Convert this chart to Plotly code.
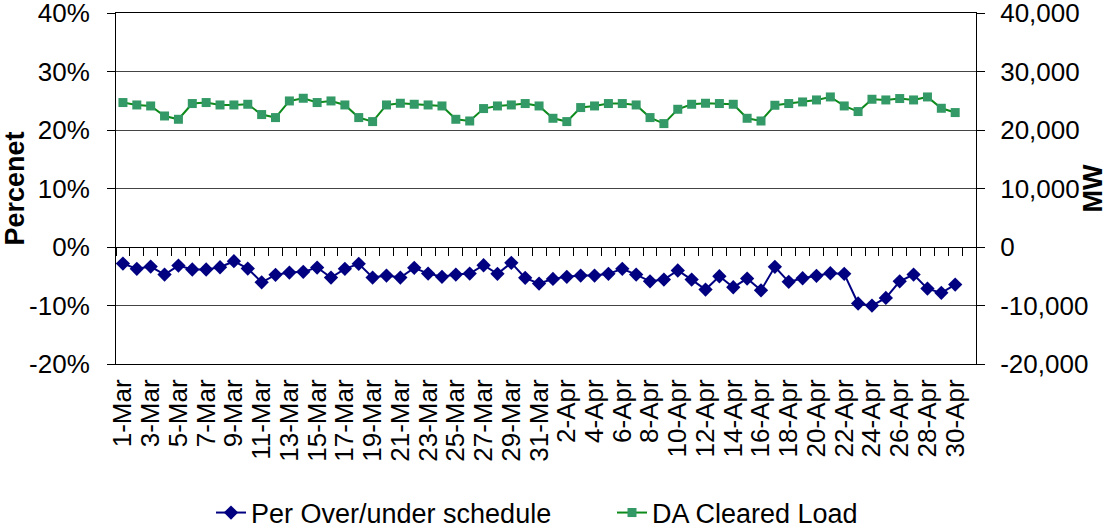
import plotly.graph_objects as go

dates = [f"{d}-Mar" for d in range(1, 32)] + [f"{d}-Apr" for d in range(1, 31)]

per_over_under = [
    -2.83, -3.73, -3.34, -4.71, -3.17, -3.85, -3.85, -3.46, -2.43, -3.68,
    -6.03, -4.76, -4.37, -4.25, -3.51, -5.22, -3.73, -2.88, -5.22, -4.88,
    -5.22, -3.56, -4.54, -5.10, -4.71, -4.54, -3.12, -4.59, -2.71, -5.27,
    -6.25, -5.45, -5.10, -4.88, -4.88, -4.59, -3.73, -4.71, -5.86, -5.57,
    -4.02, -5.57, -7.28, -5.00, -6.88, -5.39, -7.40, -3.39, -5.96, -5.34,
    -4.93, -4.49, -4.59, -9.66, -10.02, -8.70, -5.86, -4.71, -7.11, -7.84,
    -6.42,
]

da_cleared_load = [
    24692, 24281, 24110, 22397, 21832, 24521, 24692, 24281, 24281, 24400,
    22637, 22123, 24966, 25428, 24692, 24966, 24281, 22123, 21438, 24281,
    24572, 24400, 24281, 24110, 21832, 21541, 23664, 24110, 24281, 24521,
    24110, 22003, 21438, 23835, 24110, 24521, 24521, 24281, 22123, 21096,
    23544, 24400, 24572, 24521, 24400, 22003, 21541, 24229, 24521, 24794,
    25137, 25650, 24110, 23150, 25256, 25137, 25376, 25137, 25650, 23715,
    22979,
]

pct_tickvals = [-20, -10, 0, 10, 20, 30, 40]
pct_ticktext = ["-20%", "-10%", "0%", "10%", "20%", "30%", "40%"]
mw_tickvals = [-20000, -10000, 0, 10000, 20000, 30000, 40000]
mw_ticktext = ["-20,000", "-10,000", "0", "10,000", "20,000", "30,000", "40,000"]

x_idx = list(range(len(dates)))
FONT = "Liberation Sans, Arial, sans-serif"

fig = go.Figure()
fig.add_trace(go.Scatter(
    x=x_idx, y=per_over_under, name="Per Over/under schedule",
    mode="lines+markers",
    line=dict(color="#000080", width=2),
    marker=dict(symbol="diamond", size=11, color="#000080"),
    yaxis="y", xaxis="x",
))
fig.add_trace(go.Scatter(
    x=x_idx, y=da_cleared_load, name="DA Cleared Load",
    mode="lines+markers",
    line=dict(color="#0c8a1a", width=2),
    marker=dict(symbol="square", size=9, color="#339966"),
    yaxis="y2", xaxis="x",
))

fig.update_layout(
    width=1108, height=529,
    margin=dict(l=116, r=132, t=13, b=165),
    paper_bgcolor="white", plot_bgcolor="white",
    font=dict(family=FONT, size=26, color="black"),
    showlegend=True,
    legend=dict(
        orientation="h", xref="container", yref="container",
        x=211 / 1108, xanchor="left", y=1 - 513 / 529, yanchor="middle",
        font=dict(size=27), itemwidth=30, tracegroupgap=0,
        entrywidth=356, entrywidthmode="pixels",
    ),
    xaxis=dict(
        range=[-0.5, 61.5],
        tickmode="array",
        tickvals=x_idx[::2], ticktext=dates[::2],
        tickangle=-90, ticks="", showgrid=False, zeroline=False,
        showline=True, linecolor="black", linewidth=1, mirror=True,
        tickfont=dict(size=26), ticklabelstandoff=4,
        ticklabeloverflow="allow",
    ),
    xaxis2=dict(
        overlaying="x", anchor="free", position=1/3, side="bottom",
        range=[-0.5, 61.5], matches="x",
        tickmode="array", tickvals=[i + 0.5 for i in range(-1, 62)],
        ticks="outside", ticklen=8, tickcolor="black",
        showticklabels=False, showgrid=False, zeroline=False,
        showline=True, linecolor="black", linewidth=1,
    ),
    yaxis=dict(
        range=[-20, 40], tickmode="array",
        tickvals=pct_tickvals, ticktext=pct_ticktext,
        showgrid=True, gridcolor="#444444", gridwidth=1,
        zeroline=False, showline=True, linecolor="black", linewidth=1,
        ticks="outside", ticklen=8, tickcolor="black",
        tickfont=dict(size=26), ticklabelstandoff=12,
        ticklabeloverflow="allow",
        title=dict(text="<b>Percenet</b>", font=dict(size=27), standoff=10),
        automargin=False,
    ),
    yaxis2=dict(
        range=[-20000, 40000], tickmode="array",
        tickvals=mw_tickvals, ticktext=mw_ticktext,
        overlaying="y", side="right", anchor="x",
        showgrid=False, zeroline=False, showline=True,
        linecolor="black", linewidth=1,
        ticks="outside", ticklen=8, tickcolor="black",
        tickfont=dict(size=26), ticklabelstandoff=10,
        ticklabeloverflow="allow",
        title=dict(text="<b>MW</b>", font=dict(size=27), standoff=7),
        automargin=False,
    ),
)

# dummy trace to activate xaxis2 (tick marks on the zero line)
fig.add_trace(go.Scatter(x=[None], y=[None], xaxis="x2", yaxis="y",
                         showlegend=False, hoverinfo="skip"))

fig.write_html(
    "out.html",
    config={"displayModeBar": False},
    post_script="document.body.style.margin='0';document.body.style.padding='0';"
                "document.body.style.overflow='hidden';",
)
